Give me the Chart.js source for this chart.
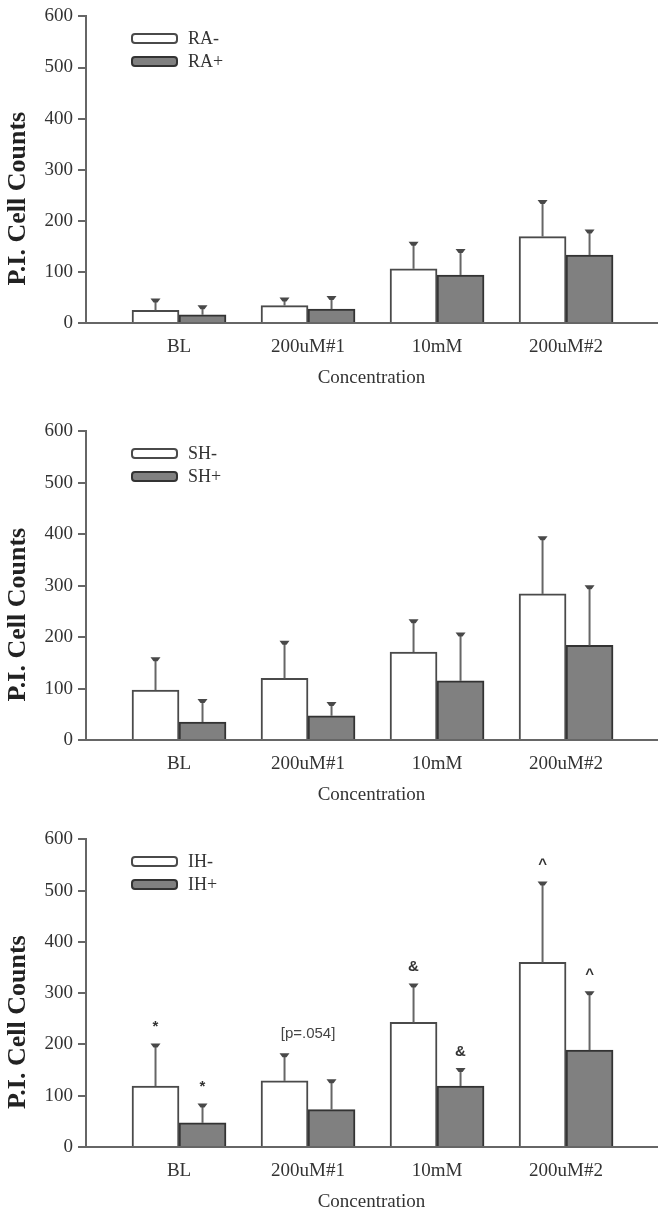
<!DOCTYPE html>
<html>
<head>
<meta charset="utf-8">
<script src="https://cdn.jsdelivr.net/npm/chart.js@4.4.1/dist/chart.umd.min.js"></script>
<style>
  html, body { margin: 0; padding: 0; background: #fff; overflow: hidden; width: 664px; height: 1214px; }
  .panel { position: absolute; left: 0; width: 664px; }
  canvas { display: block; }
</style>
</head>
<body>
<div class="panel" style="top:0px"><canvas id="chart-ra" width="664" height="391"></canvas></div>
<div class="panel" style="top:415px"><canvas id="chart-sh" width="664" height="393"></canvas></div>
<div class="panel" style="top:823px"><canvas id="chart-ih" width="664" height="392"></canvas></div>
<script>
const categories = ['BL', '200uM#1', '10mM', '200uM#2'];
const yTickValues = [0, 100, 200, 300, 400, 500, 600];

// RA panel
const raMinus = [25, 34, 106, 169];
const raMinusErr = [20, 13, 50, 69];
const raPlus = [16, 27, 94, 133];
const raPlusErr = [16, 23, 48, 47];

// SH panel
const shMinus = [97, 120, 171, 284];
const shMinusErr = [61, 70, 61, 109];
const shPlus = [35, 47, 115, 184];
const shPlusErr = [42, 24, 91, 114];

// IH panel
const ihMinus = [119, 129, 243, 360];
const ihMinusErr = [80, 51, 73, 155];
const ihPlus = [47, 73, 119, 189];
const ihPlusErr = [35, 56, 32, 112];
const ihMinusMarks = ['*', null, '&', '^'];
const ihPlusMarks = ['*', null, '&', '^'];
const ihNotes = [null, '[p=.054]', null, null];

const serif = '"Liberation Serif", "Times New Roman", serif';
const sans = '"Liberation Sans", Arial, sans-serif';

const errorBars = {
    id: 'errorBars',
    afterDatasetsDraw(chart, args, opts) {
        const ctx = chart.ctx;
        const yScale = chart.scales.y;
        const xScale = chart.scales.x;
        const capTops = [];
        chart.data.datasets.forEach((ds, i) => {
            const meta = chart.getDatasetMeta(i);
            meta.data.forEach((bar, j) => {
                const top = yScale.getPixelForValue(ds.data[j].y + ds.errors[j]);
                capTops[j] = Math.min(capTops[j] === undefined ? Infinity : capTops[j], top);
                ctx.save();
                ctx.strokeStyle = '#666';
                ctx.lineWidth = 2;
                ctx.beginPath();
                ctx.moveTo(bar.x, bar.y);
                ctx.lineTo(bar.x, top);
                ctx.stroke();
                ctx.fillStyle = '#484848';
                ctx.beginPath();
                ctx.moveTo(bar.x - 5, top - 1.5);
                ctx.lineTo(bar.x + 5, top - 1.5);
                ctx.lineTo(bar.x + 2, top + 2.5);
                ctx.lineTo(bar.x - 2, top + 2.5);
                ctx.closePath();
                ctx.fill();
                if (ds.marks && ds.marks[j]) {
                    ctx.fillStyle = '#333';
                    ctx.font = 'bold 15px ' + sans;
                    ctx.textAlign = 'center';
                    ctx.textBaseline = 'alphabetic';
                    ctx.fillText(ds.marks[j], bar.x, top - 14);
                }
                ctx.restore();
            });
        });
        (opts.notes || []).forEach((note, j) => {
            if (!note) return;
            ctx.save();
            ctx.fillStyle = '#444';
            ctx.font = '15px ' + sans;
            ctx.textAlign = 'center';
            ctx.textBaseline = 'alphabetic';
            ctx.fillText(note, xScale.getPixelForValue(j), capTops[j] - 17);
            ctx.restore();
        });
    }
};

const insideLegend = {
    id: 'insideLegend',
    afterDraw(chart, args, opts) {
        const { ctx, chartArea } = chart;
        chart.data.datasets.forEach((ds, i) => {
            const x = chartArea.left + opts.offsetX;
            const cy = chartArea.top + opts.offsetY + i * opts.rowGap;
            ctx.save();
            ctx.beginPath();
            if (ctx.roundRect) {
                ctx.roundRect(x, cy - 4.5, 45, 9, 3);
            } else {
                ctx.rect(x, cy - 4.5, 45, 9);
            }
            ctx.fillStyle = ds.backgroundColor;
            ctx.fill();
            ctx.lineWidth = 2;
            ctx.strokeStyle = ds.borderColor;
            ctx.stroke();
            ctx.fillStyle = '#333';
            ctx.font = '18px ' + serif;
            ctx.textAlign = 'left';
            ctx.textBaseline = 'middle';
            ctx.fillText(ds.label, x + 56, cy + 1);
            ctx.restore();
        });
    }
};

const yTitle = {
    id: 'yTitle',
    afterDraw(chart, args, opts) {
        const { ctx, chartArea } = chart;
        ctx.save();
        ctx.translate(opts.x, (chartArea.top + chartArea.bottom) / 2 + opts.shift);
        ctx.rotate(-Math.PI / 2);
        ctx.font = 'bold 26px ' + serif;
        ctx.fillStyle = '#222';
        ctx.textAlign = 'center';
        ctx.textBaseline = 'middle';
        ctx.fillText(opts.text, 0, 0);
        ctx.restore();
    }
};

function makeChart(id, labels, series, errors, marks, notes) {
    const ctx = document.getElementById(id);
    const fills = ['#ffffff', '#808080'];
    const borders = ['#4a4a4a', '#333333'];

    return new Chart(ctx, {
        type: 'bar',
        data: {
            datasets: series.map((values, k) => ({
                label: labels[k],
                data: values.map((v, i) => ({ x: i, y: v })),
                errors: errors[k],
                marks: marks ? marks[k] : null,
                backgroundColor: fills[k],
                borderColor: borders[k],
                borderWidth: 2,
                barThickness: 47
            }))
        },
        options: {
            responsive: false,
            animation: false,
            layout: {
                padding: { top: 10, right: 7, left: 0, bottom: 0 }
            },
            plugins: {
                legend: { display: false },
                tooltip: { enabled: false },
                insideLegend: { offsetX: 46, offsetY: 22, rowGap: 23 },
                yTitle: { text: 'P.I. Cell Counts', x: 18, shift: 29 },
                errorBars: { notes: notes }
            },
            scales: {
                x: {
                    type: 'linear',
                    offset: false,
                    min: -0.721,
                    max: 3.705,
                    afterBuildTicks: s => { s.ticks = categories.map((c, i) => ({ value: i })); },
                    afterFit: s => { s.height = 68; },
                    ticks: {
                        callback: v => categories[v],
                        autoSkip: false,
                        maxRotation: 0,
                        padding: 13,
                        color: '#333',
                        font: { family: serif, size: 19 }
                    },
                    grid: { display: false, drawTicks: false },
                    border: { display: true, color: '#666', width: 2 },
                    title: {
                        display: true,
                        text: 'Concentration',
                        color: '#333',
                        font: { family: serif, size: 19 },
                        padding: { top: 0, bottom: 2 }
                    }
                },
                y: {
                    min: 0,
                    max: 600,
                    afterBuildTicks: s => { s.ticks = yTickValues.map(v => ({ value: v })); },
                    afterFit: s => { s.width = 86; },
                    ticks: {
                        padding: 5,
                        color: '#333',
                        font: { family: serif, size: 19 }
                    },
                    grid: {
                        drawOnChartArea: false,
                        drawTicks: true,
                        tickLength: 8,
                        color: '#666',
                        lineWidth: 2
                    },
                    border: { color: '#666', width: 2 }
                }
            }
        },
        plugins: [errorBars, insideLegend, yTitle]
    });
}

makeChart('chart-ra', ['RA-', 'RA+'], [raMinus, raPlus], [raMinusErr, raPlusErr]);
makeChart('chart-sh', ['SH-', 'SH+'], [shMinus, shPlus], [shMinusErr, shPlusErr]);
makeChart('chart-ih', ['IH-', 'IH+'], [ihMinus, ihPlus], [ihMinusErr, ihPlusErr],
    [ihMinusMarks, ihPlusMarks], ihNotes);
</script>
</body>
</html>
